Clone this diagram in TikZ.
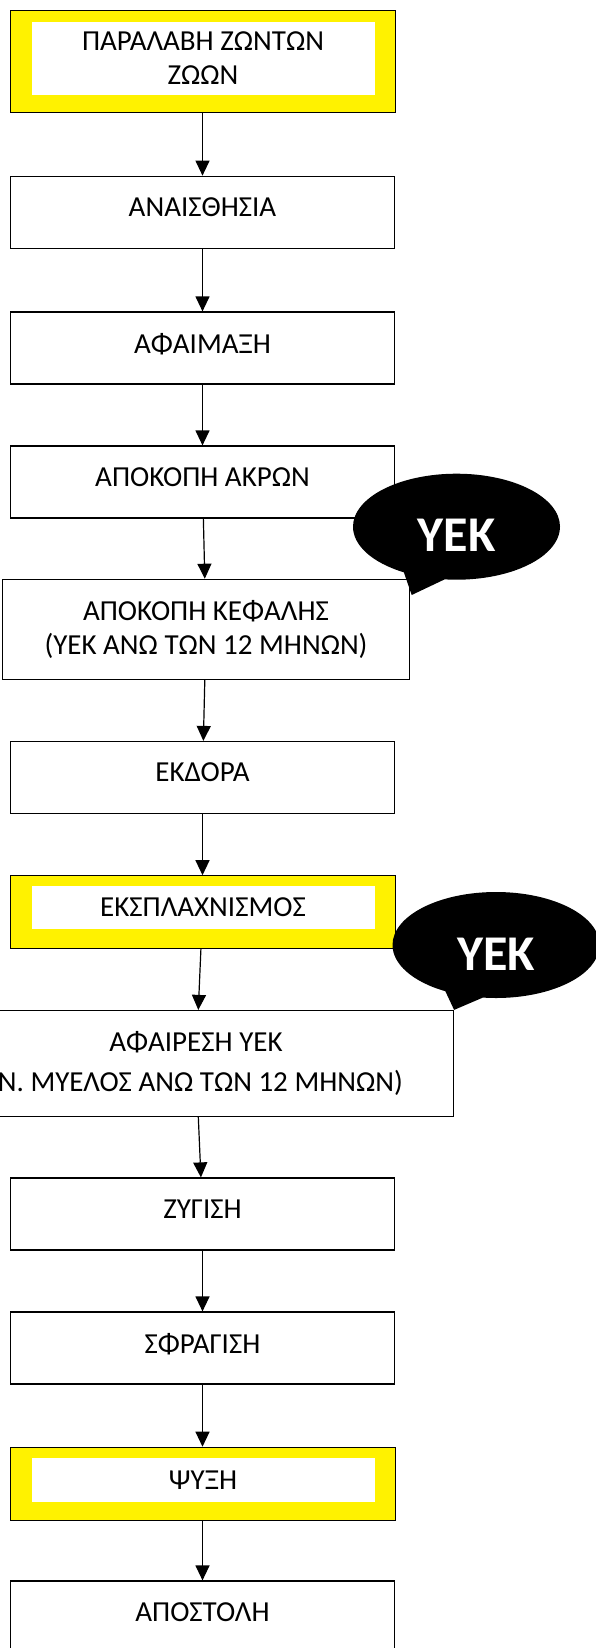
\documentclass[tikz,border=0pt]{standalone}
\usepackage{fontspec}
\setmainfont{Carlito}
\usepackage{tikz}
\usetikzlibrary{calc,positioning,shapes}
\usetikzlibrary{shapes.callouts}
\usetikzlibrary{backgrounds}
\usetikzlibrary{fit}
\usetikzlibrary{arrows.meta}
\tikzset{>={Triangle[width=14pt,length=15pt]}}
\tikzset{stage/.style = {draw, fill=white, rectangle, align=center, inner sep=0pt,
                  minimum height=72pt, minimum width=384pt},
        oneline/.style = {text depth=10pt},
        ccp/.style = {fill=white, rectangle, align=center, inner sep=0pt, minimum width=343pt},
        ccpframe/.style = {draw, fill=yellow, inner sep=0pt}
    }

\begin{document}
\begin{tikzpicture}[x=1pt, y=-1pt, line width=1.2pt, font=\fontsize{29}{34}\selectfont]
    \tikzstyle{yek} = [ellipse callout, fill=black, text=white, inner sep=0pt,
                       minimum width=207pt, minimum height=106pt,
                       text height=50pt, text depth=0pt,
                       font=\fontsize{50}{60}\selectfont\bfseries]

    \useasboundingbox (0,0) rectangle (595,1648);

    % control points in yellow
    \node[ccp, minimum height=72.5pt] (recv) at (203,58.5) {ΠΑΡΑΛΑΒΗ ΖΩΝΤΩΝ\\ΖΩΩΝ};
    \node[stage, oneline] (anaes) at (202.5,212.25) {ΑΝΑΙΣΘΗΣΙΑ};
    \node[stage, oneline] (bleed) at (202.5,348) {ΑΦΑΙΜΑΞΗ};
    \node[stage, oneline] (feet) at (202.5,482) {ΑΠΟΚΟΠΗ ΑΚΡΩΝ};
    \node[stage, minimum width=407pt, minimum height=100pt] (head) at (206,629.3)
         {ΑΠΟΚΟΠΗ ΚΕΦΑΛΗΣ\\(ΥΕΚ ΑΝΩ ΤΩΝ 12 ΜΗΝΩΝ)};
    \node[stage, oneline] (skin) at (202.5,777.5) {ΕΚΔΟΡΑ};
    \node[ccp, minimum height=43pt] (gut) at (203,907.5) {ΕΚΣΠΛΑΧΝΙΣΜΟΣ};
    \node[stage, minimum width=515pt, minimum height=106pt] (cord) at (196,1063.5)
         {ΑΦΑΙΡΕΣΗ ΥΕΚ\\[6pt](Ν. ΜΥΕΛΟΣ ΑΝΩ ΤΩΝ 12 ΜΗΝΩΝ)};
    \node[stage, oneline] (weigh) at (202.5,1214) {ΖΥΓΙΣΗ};
    \node[stage, oneline] (seal) at (202.5,1348) {ΣΦΡΑΓΙΣΗ};
    \node[ccp, minimum height=44pt] (chill) at (203,1480) {ΨΥΞΗ};
    \node[stage, oneline] (ship) at (202.5,1617) {ΑΠΟΣΤΟΛΗ};

    \begin{scope}[on background layer]
      \node[ccpframe, fit={($(recv.north west)+(-21,-11.75)$) ($(recv.south east)+(20,16.75)$)}] (recvf) {};
      \node[ccpframe, fit={($(gut.north west)+(-21,-10)$) ($(gut.south east)+(20,19)$)}] (gutf) {};
      \node[ccpframe, fit={($(chill.north west)+(-21,-10.5)$) ($(chill.south east)+(20,18)$)}] (chillf) {};
    \end{scope}

    \draw[->] (recvf) -- (anaes);
    \draw[->] (anaes) -- (bleed);
    \draw[->] (bleed) -- (feet);
    \draw[->] (feet) -- (head);
    \draw[->] (head) -- (skin);
    \draw[->] (skin) -- (gutf);
    \draw[->] (gutf) -- (cord);
    \draw[->] (cord) -- (weigh);
    \draw[->] (weigh) -- (seal);
    \draw[->] (seal) -- (chillf);
    \draw[->] (chillf) -- (ship);

    % SRM call-outs
    \coordinate (tipA) at (411.7,595);
    \node[yek, callout absolute pointer={(tipA)}, callout pointer arc=24] (yekA) at (456.5,526.7) {ΥΕΚ};
    \node[yek, callout absolute pointer={(cord.north east)}, callout pointer arc=22] (yekB) at (496,945) {ΥΕΚ};
  \end{tikzpicture}
\end{document}
